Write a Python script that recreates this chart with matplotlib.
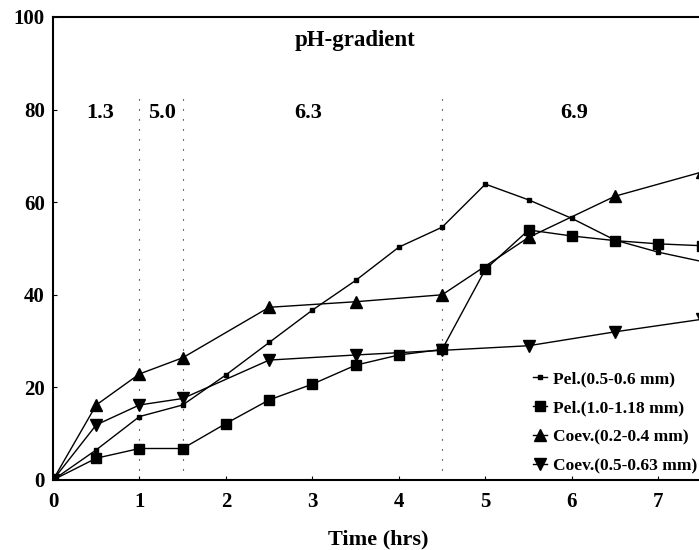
import matplotlib.pyplot as plt
import numpy as np

plt.rcParams['font.family'] = ['Liberation Serif', 'DejaVu Serif']
plt.rcParams['font.weight'] = 'bold'

# time points (hrs)
t_pel = [0, 0.5, 1, 1.5, 2, 2.5, 3, 3.5, 4, 4.5, 5, 5.5, 6, 6.5, 7, 7.5]
t_coev = [0, 0.5, 1, 1.5, 2.5, 3.5, 4.5, 5.5, 6.5, 7.5]

# release values
pel_small = [0, 6.5, 13.7, 16.2, 22.7, 29.7, 36.7, 43.1, 50.3, 54.6, 63.9, 60.5, 56.5, 51.8, 49.2, 47.2]
pel_large = [0, 4.7, 6.8, 6.8, 12.2, 17.3, 20.7, 24.8, 27.0, 28.2, 45.5, 54.0, 52.7, 51.7, 51.0, 50.6]
coev_small = [0, 16.2, 22.9, 26.4, 37.3, 38.5, 40.0, 52.4, 61.3, 66.5]
coev_large = [0, 11.9, 16.2, 17.6, 25.9, 27.0, 28.0, 29.0, 32.0, 34.7]

labels = ['Pel.(0.5-0.6 mm)', 'Pel.(1.0-1.18 mm)',
          'Coev.(0.2-0.4 mm)', 'Coev.(0.5-0.63 mm)']

# pH zones
boundaries = [1, 1.5, 4.5]
ph_values = ['1.3', '5.0', '6.3', '6.9']
ph_pos = [0.55, 1.26, 2.95, 6.03]

fig = plt.figure(figsize=(6.99, 5.5), dpi=100)
ax = fig.add_axes([0.0758, 0.1273, 0.9242, 0.8418])

ax.plot(t_pel, pel_small, 'k-', marker='s', ms=3, lw=1, label=labels[0])
ax.plot(t_pel, pel_large, 'k-', marker='s', ms=7, lw=1, label=labels[1])
ax.plot(t_coev, coev_small, 'k-', marker='^', ms=8, lw=1, label=labels[2])
ax.plot(t_coev, coev_large, 'k-', marker='v', ms=8, lw=1, label=labels[3])

for b in boundaries:
    ax.plot([b, b], [0, 82.7], color='k', ls=(0, (1, 8)), lw=0.8)

for p, v in zip(ph_pos, ph_values):
    ax.text(p, 79.3, v, ha='center', va='center', fontsize=16, fontweight='bold')
ax.text(3.49, 95, 'pH-gradient', ha='center', va='center', fontsize=16.5, fontweight='bold')

ax.set_xlim(0, 7.47)
ax.set_ylim(0, 100)
ax.set_xticks(range(8))
ax.set_yticks(range(0, 101, 20))
ax.tick_params(labelsize=15, length=3, direction='in')
ax.tick_params(axis='x', pad=9)
ax.tick_params(axis='y', pad=6)
for lab in ax.get_xticklabels() + ax.get_yticklabels():
    lab.set_fontweight('bold')
for s in ['top', 'left', 'bottom']:
    ax.spines[s].set_linewidth(1.5)
ax.spines['right'].set_visible(False)

ax.set_xlabel('Time (hrs)', fontsize=16, fontweight='bold')
ax.xaxis.set_label_coords(0.503, -0.106)

leg = ax.legend(loc='lower left', bbox_to_anchor=(0.743, 0.012), frameon=False,
                handlelength=0.8, handletextpad=0.35, labelspacing=0.75,
                borderpad=0, borderaxespad=0,
                prop={'size': 12.5, 'weight': 'bold'})

plt.savefig('out.png', dpi=100)
